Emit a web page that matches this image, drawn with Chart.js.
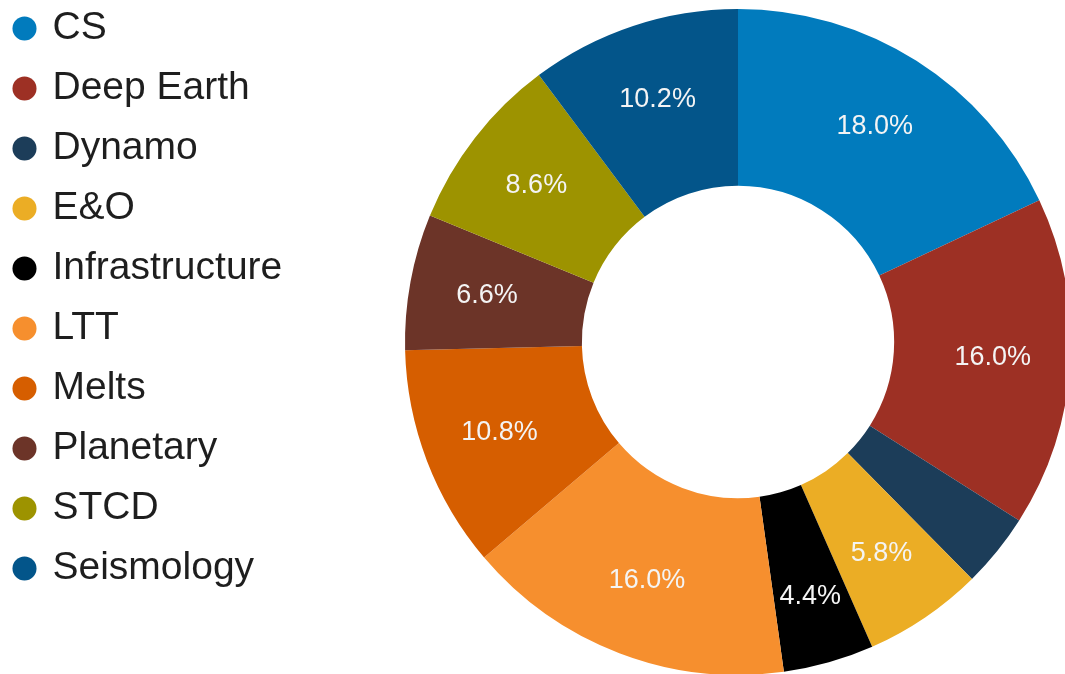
<!DOCTYPE html>
<html>
<head>
<meta charset="utf-8">
<script src="https://cdn.jsdelivr.net/npm/chart.js@4/dist/chart.umd.min.js"></script>
<style>
  html, body { margin: 0; padding: 0; width: 1065px; height: 674px; overflow: hidden; background: #fff; }
  #wrap { position: relative; width: 1065px; height: 674px; overflow: hidden; }
  #chart { position: absolute; left: -5px; top: -12px; }
</style>
</head>
<body>
<div id="wrap"><canvas id="chart" width="1400" height="708"></canvas></div>
<script>
// Share of projects per group (percent)
const categories = ['CS', 'Deep Earth', 'Dynamo', 'E&O', 'Infrastructure', 'LTT', 'Melts', 'Planetary', 'STCD', 'Seismology'];
const shares = [18.0, 16.0, 3.6, 5.8, 4.4, 16.0, 10.8, 6.6, 8.6, 10.2];
const sliceColors = ['#017bbd', '#9d3024', '#1c3d59', '#ebad25', '#000000', '#f68f2e', '#d65e00', '#6c3428', '#9d9300', '#03558a'];

const FONT = "'Liberation Sans', Arial, Helvetica, sans-serif";
const CENTER_X = 743;   // doughnut centre on the canvas
const CANVAS_W = 1400;

// Writes the percentage inside each slice; narrow slices push the text
// outward until it fits between the slice edges, tiny ones get no label.
const sliceLabels = {
  id: 'sliceLabels',
  afterDatasetsDraw(chart) {
    const meta = chart.getDatasetMeta(0);
    const values = chart.data.datasets[0].data;
    const total = values.reduce((a, b) => a + b, 0);
    const ctx = chart.ctx;
    ctx.save();
    ctx.font = '27px ' + FONT;
    ctx.fillStyle = '#f4f4f4';
    ctx.textAlign = 'center';
    ctx.textBaseline = 'middle';
    meta.data.forEach((arc, i) => {
      const pct = values[i] / total * 100;
      if (pct < 4) return;
      const text = pct.toFixed(1) + '%';
      const {x, y, startAngle, endAngle, innerRadius, outerRadius} =
        arc.getProps(['x', 'y', 'startAngle', 'endAngle', 'innerRadius', 'outerRadius'], true);
      const mid = (startAngle + endAngle) / 2;
      const span = endAngle - startAngle;
      const w = ctx.measureText(text).width;
      const h = 21;
      const across = w * Math.abs(Math.sin(mid)) + h * Math.abs(Math.cos(mid));
      const rBase = innerRadius + 0.56 * (outerRadius - innerRadius);
      const rFit = (across + 8) / (2 * Math.sin(span / 2));
      const r = Math.min(Math.max(rBase, rFit), outerRadius - h);
      ctx.fillText(text, x + r * Math.cos(mid), y + r * Math.sin(mid));
    });
    ctx.restore();
  }
};

const chart = new Chart(document.getElementById('chart'), {
  type: 'doughnut',
  data: {
    labels: categories,
    datasets: [{
      data: shares,
      backgroundColor: sliceColors,
      borderWidth: 0,
      clip: false
    }]
  },
  options: {
    responsive: false,
    animation: false,
    radius: 333,
    cutout: 166,
    layout: { padding: { left: 0, top: 0, bottom: 0, right: 0 } },
    plugins: {
      tooltip: { enabled: false },
      legend: {
        position: 'left',
        align: 'start',
        labels: {
          usePointStyle: true,
          pointStyle: 'circle',
          boxWidth: 17,
          boxHeight: 17,
          padding: 21,
          color: '#1e1e1e',
          font: { family: FONT, size: 39 }
        }
      }
    }
  },
  plugins: [sliceLabels]
});

// Pad the right side so the ring sits at CENTER_X whatever the legend width is
const legendRight = chart.chartArea.left;
chart.options.layout.padding.right = legendRight + CANVAS_W - 2 * CENTER_X;
chart.update();
</script>
</body>
</html>
